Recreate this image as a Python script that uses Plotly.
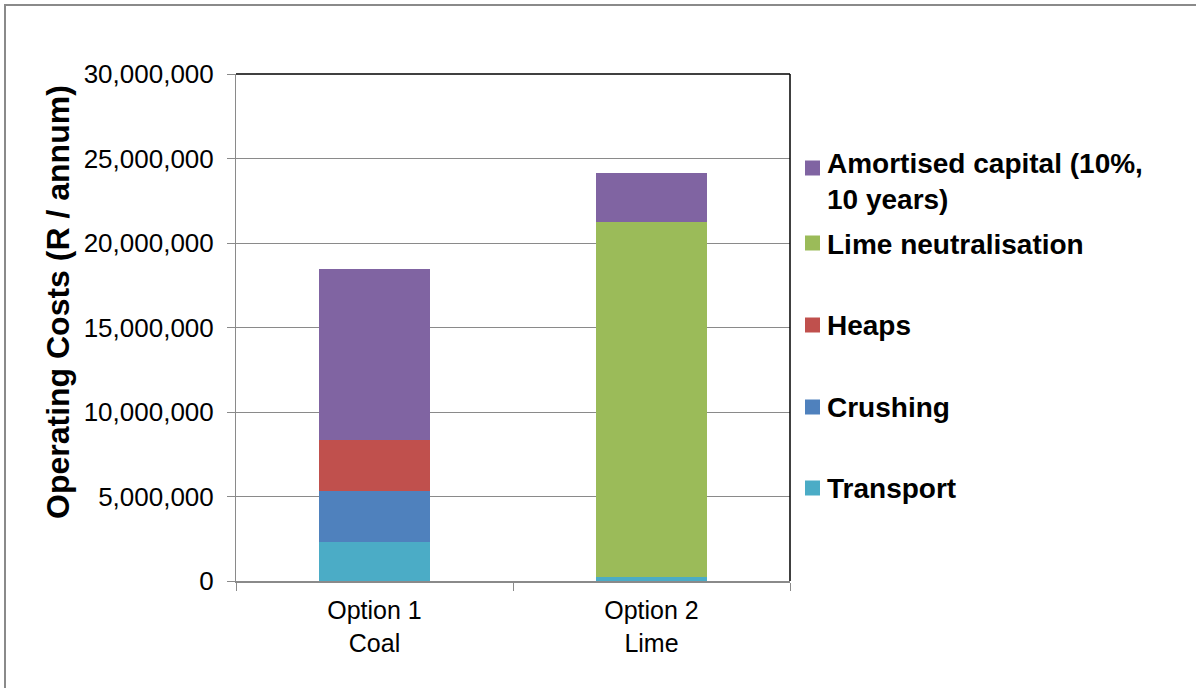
import plotly.graph_objects as go

# Operating cost breakdown per option (R / annum)
categories = ["Option 1<br>Coal", "Option 2<br>Lime"]
series_names = [
    "Transport",
    "Crushing",
    "Heaps",
    "Lime neutralisation",
    "Amortised capital (10%, 10 years)",
]
legend_labels = [
    "Transport",
    "Crushing",
    "Heaps",
    "Lime neutralisation",
    "Amortised capital (10%,<br>10 years)",
]
series_colors = ["#4BACC6", "#4F81BD", "#C0504D", "#9BBB59", "#8064A2"]
transport = [2_290_000, 250_000]
crushing = [3_050_000, 0]
heaps = [3_000_000, 0]
lime_neutralisation = [0, 21_000_000]
amortised_capital = [10_100_000, 2_880_000]
series_values = [transport, crushing, heaps, lime_neutralisation, amortised_capital]

y_ticks = [0, 5_000_000, 10_000_000, 15_000_000, 20_000_000, 25_000_000, 30_000_000]
y_tick_labels = ["0", "5,000,000", "10,000,000", "15,000,000", "20,000,000", "25,000,000", "30,000,000"]

W, H = 1196, 688
L, R, T, B = 236, 790, 74, 581

fig = go.Figure()
for name, color, vals in zip(series_names, series_colors, series_values):
    fig.add_trace(go.Bar(
        x=categories, y=vals, name=name,
        marker=dict(color=color, line=dict(width=0)),
        width=0.4, showlegend=False,
    ))

fig.update_layout(
    barmode="stack",
    width=W, height=H,
    margin=dict(l=L, r=W - R, t=T, b=H - B, pad=0),
    paper_bgcolor="white", plot_bgcolor="white",
    font=dict(family="Liberation Sans, Arial, sans-serif", color="black"),
)
fig.update_yaxes(
    range=[0, 30_000_000], tickvals=y_ticks, ticktext=y_tick_labels,
    tickfont=dict(size=26), showgrid=True, gridcolor="#8a8a8a", gridwidth=1,
    showline=True, linecolor="#8a8a8a", linewidth=1,
    ticks="outside", ticklen=8, tickcolor="#8a8a8a", ticklabelstandoff=8,
    zeroline=False,
)
fig.update_xaxes(
    tickfont=dict(size=25), showline=True, linecolor="#8a8a8a", linewidth=2,
    ticks="outside", tickson="boundaries", ticklen=8, tickcolor="#8a8a8a",
    ticklabelstandoff=6, showgrid=False,
)

pw, ph = R - L, B - T
def px(xp):
    return (xp - L) / pw
def py(yp):
    return (B - yp) / ph

shapes = [
    # plot-area frame, top and right
    dict(type="line", xref="paper", yref="paper", x0=0, x1=1, y0=1, y1=1,
         line=dict(color="black", width=1.5)),
    dict(type="line", xref="paper", yref="paper", x0=1, x1=1, y0=0, y1=1,
         line=dict(color="black", width=1.5)),
    # chart-area border
    dict(type="rect", xref="paper", yref="paper", x0=px(5), x1=px(1200), y0=py(692), y1=py(5),
         line=dict(color="#8a8a8a", width=2)),
]

annotations = [
    dict(text="<b>Operating Costs (R / annum)</b>", textangle=-90,
         xref="paper", yref="paper", x=px(58), y=py(302),
         xanchor="center", yanchor="middle", showarrow=False,
         font=dict(size=32, color="black")),
]

# legend: swatch + bold label, listed top to bottom
legend_rows = [
    (4, 168, 181),
    (3, 243, 244),
    (2, 325, 325),
    (1, 407, 407),
    (0, 488, 488),
]
for idx, sw_y, tx_y in legend_rows:
    shapes.append(dict(type="rect", xref="paper", yref="paper",
                       x0=px(805), x1=px(820), y0=py(sw_y + 7.5), y1=py(sw_y - 7.5),
                       line=dict(width=0), fillcolor=series_colors[idx]))
    annotations.append(dict(text="<b>" + legend_labels[idx] + "</b>",
                            xref="paper", yref="paper", x=px(825), y=py(tx_y),
                            xanchor="left", yanchor="middle", align="left",
                            showarrow=False, font=dict(size=28, color="black")))

fig.update_layout(shapes=shapes, annotations=annotations)
fig.write_html("out.html")
